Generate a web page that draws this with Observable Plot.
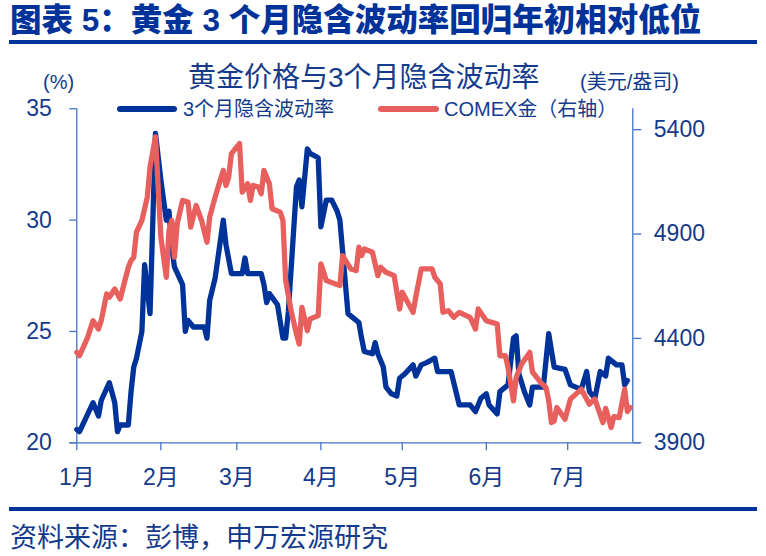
<!DOCTYPE html>
<html>
<head>
<meta charset="utf-8">
<script src="https://cdn.jsdelivr.net/npm/d3@7"></script>
<script src="https://cdn.jsdelivr.net/npm/@observablehq/plot@0.6"></script>
<style>
  html, body { margin: 0; padding: 0; background: #fff; }
  #wrap { position: relative; width: 766px; height: 556px; overflow: hidden; font-family: "Liberation Sans", "Noto Sans CJK SC", sans-serif; }
  #wrap > svg { position: absolute; left: 0; top: 0; }
  .t { position: absolute; white-space: nowrap; line-height: 1; }
  .bar { position: absolute; background: #003399; }
</style>
</head>
<body>
<div id="wrap"></div>
<script>
// ---------------- data ----------------
const year = 2026;
const volDates = ["01-01","01-02","01-07","01-09","01-10","01-13","01-15","01-16","01-17","01-20","01-21","01-22","01-23","01-25","01-26","01-28","01-30","02-01","02-03","02-04","02-05","02-06","02-09","02-10","02-11","02-13","02-17","02-18","02-19","02-21","02-24","02-25","02-27","03-03","03-04","03-05","03-10","03-11","03-12","03-13","03-16","03-18","03-19","03-20","03-23","03-24","03-25","03-27","03-28","03-31","04-01","04-03","04-05","04-07","04-08","04-11","04-13","04-15","04-16","04-17","04-20","04-21","04-22","04-24","04-25","04-27","04-29","04-30","05-02","05-05","05-06","05-08","05-10","05-13","05-14","05-19","05-22","05-26","05-28","05-30","06-01","06-02","06-05","06-06","06-09","06-11","06-12","06-13","06-15","06-17","06-18","06-22","06-24","06-26","06-30","07-02","07-06","07-08","07-09","07-11","07-13","07-15","07-16","07-19","07-21","07-22","07-23"];
const volValues = [20.6,20.5,21.8,21.2,21.9,22.7,21.8,20.5,20.8,20.8,22.3,23.4,23.8,25.0,28.0,25.8,33.9,31.8,30.0,30.4,28.8,27.9,27.1,25.0,25.5,25.2,25.2,24.7,26.4,27.4,30.0,28.9,27.6,27.6,28.3,27.6,27.6,27.1,26.3,26.7,26.2,24.7,24.7,25.9,31.5,31.8,30.6,33.2,33.0,32.8,29.7,30.9,30.9,30.4,30.0,25.8,25.6,25.4,24.7,24.1,24.0,24.5,24.0,23.4,22.5,22.2,22.1,22.9,23.1,23.5,23.0,23.5,23.6,23.8,23.2,23.2,21.7,21.7,21.4,22.0,22.2,21.7,21.3,22.3,22.6,24.7,24.8,23.1,22.3,21.7,22.5,22.5,24.9,23.4,23.3,22.6,22.4,23.2,22.3,22.0,23.2,23.0,23.8,23.5,23.5,22.6,22.8];

const goldDates = ["01-01","01-02","01-05","01-07","01-09","01-10","01-12","01-13","01-15","01-17","01-20","01-21","01-22","01-23","01-25","01-27","01-28","01-30","02-01","02-03","02-04","02-05","02-06","02-07","02-09","02-11","02-12","02-14","02-16","02-18","02-19","02-21","02-24","02-25","02-26","02-27","03-02","03-03","03-05","03-06","03-07","03-09","03-10","03-11","03-13","03-14","03-17","03-18","03-19","03-21","03-23","03-24","03-25","03-27","03-28","03-31","04-01","04-03","04-08","04-09","04-12","04-14","04-15","04-16","04-17","04-20","04-22","04-23","04-25","04-28","04-30","05-01","05-02","05-05","05-06","05-08","05-12","05-13","05-15","05-16","05-18","05-20","05-22","05-26","05-28","05-29","06-01","06-03","06-05","06-06","06-08","06-09","06-11","06-12","06-14","06-17","06-18","06-21","06-23","06-24","06-25","06-26","06-27","06-30","07-02","07-04","07-06","07-09","07-11","07-14","07-15","07-17","07-18","07-20","07-22","07-23","07-24"];
const goldValues = [4333,4317,4405,4485,4445,4485,4613,4597,4637,4589,4741,4773,4789,4909,4965,5077,5221,5365,4885,4693,4917,4965,4789,4949,5061,5053,4933,5037,4965,4861,4981,5077,5205,5133,5173,5285,5333,5101,5141,5061,5133,5125,5093,5205,5141,5021,5005,4965,4680,4533,4421,4373,4549,4437,4493,4509,4757,4677,4653,4797,4733,4725,4837,4797,4829,4813,4701,4741,4717,4701,4541,4621,4597,4525,4600,4733,4733,4693,4661,4525,4533,4501,4525,4501,4445,4541,4485,4477,4469,4317,4317,4261,4101,4213,4277,4333,4240,4189,4165,4101,3997,4005,4069,4013,4109,4133,4157,4085,4110,3997,4065,3973,4025,4021,4157,4050,4069];

const monthLabels = ["1月","2月","3月","4月","5月","6月","7月"];
const leftTicks = [20, 25, 30, 35];
const rightTicks = [3900, 4400, 4900, 5400];
const leftDomain = [20, 35];
const rightDomain = [3900, 5500];
const xStart = "01-01", xEnd = "07-25";

const seriesNames = ["3个月隐含波动率", "COMEX金（右轴）"];
const titleText = "图表 5：黄金 3 个月隐含波动率回归年初相对低位";
const chartTitle = "黄金价格与3个月隐含波动率";
const leftUnit = "(%)";
const rightUnit = "(美元/盎司)";
const sourceText = "资料来源：彭博，申万宏源研究";

// ---------------- build ----------------
const parse = s => new Date(Date.UTC(year, +s.slice(0, 2) - 1, +s.slice(3, 5)));
const toLeft = p => leftDomain[0] + (p - rightDomain[0]) / (rightDomain[1] - rightDomain[0]) * (leftDomain[1] - leftDomain[0]);
const fromLeft = v => rightDomain[0] + (v - leftDomain[0]) / (leftDomain[1] - leftDomain[0]) * (rightDomain[1] - rightDomain[0]);

const vol = volDates.map((d, i) => ({date: parse(d), v: volValues[i]}));
const gold = goldDates.map((d, i) => ({date: parse(d), v: toLeft(goldValues[i])}));
const xDomain = [parse(xStart), parse(xEnd)];
const monthTicks = monthLabels.map((_, i) => new Date(Date.UTC(year, i, 1)));

const BLUE = "#003399", RED = "#e8605d", AXIS = "#4472c4", TXT = "#143a8c";

const chart = Plot.plot({
  width: 766,
  height: 556,
  marginLeft: 76.3,
  marginRight: 133.7,
  marginTop: 108.3,
  marginBottom: 113.7,
  x: {type: "utc", domain: xDomain},
  y: {domain: leftDomain},
  style: {fontFamily: "'Liberation Sans','Noto Sans CJK SC',sans-serif", fontSize: "23px", color: TXT, background: "transparent", overflow: "visible"},
  marks: [
    Plot.ruleX(xDomain, {stroke: AXIS, strokeWidth: 1.3}),
    Plot.ruleY([leftDomain[0]], {stroke: AXIS, strokeWidth: 1.3, insetLeft: -7, insetRight: -8}),
    Plot.line(vol, {x: "date", y: "v", stroke: BLUE, strokeWidth: 5.3}),
    Plot.line(gold, {x: "date", y: "v", stroke: RED, strokeWidth: 5.3}),
    Plot.axisY({ticks: leftTicks, tickSize: 7, tickPadding: 18, stroke: AXIS, fill: TXT, strokeWidth: 1.3, label: null}),
    Plot.axisY({anchor: "right", ticks: rightTicks.map(toLeft), tickFormat: d => String(Math.round(fromLeft(d))), tickSize: 8, tickPadding: 13, stroke: AXIS, fill: TXT, strokeWidth: 1.3, label: null}),
    Plot.axisX({ticks: monthTicks, tickFormat: d => monthLabels[d.getUTCMonth()], tickSize: 8, tickPadding: 18, stroke: AXIS, fill: TXT, strokeWidth: 1.3, label: null})
  ]
});

const wrap = document.getElementById("wrap");
wrap.appendChild(chart);

function addText(txt, left, cy, size, opts = {}) {
  const el = document.createElement("div");
  el.className = "t";
  el.textContent = txt;
  el.style.left = left + "px";
  el.style.top = (cy - size / 2) + "px";
  el.style.fontSize = size + "px";
  el.style.color = opts.color || TXT;
  if (opts.weight) el.style.fontWeight = opts.weight;
  if (opts.family) el.style.fontFamily = opts.family;
  wrap.appendChild(el);
  return el;
}
function addBar(left, top, w, h, color, radius) {
  const el = document.createElement("div");
  el.className = "bar";
  el.style.left = left + "px"; el.style.top = top + "px";
  el.style.width = w + "px"; el.style.height = h + "px";
  el.style.background = color;
  if (radius) el.style.borderRadius = radius + "px";
  wrap.appendChild(el);
}

addText(titleText, 10, 21, 31.5, {color: BLUE, weight: 900, family: "'Liberation Sans','Noto Sans CJK SC',sans-serif"});
addBar(9, 40, 748, 3.5, BLUE);
addText(chartTitle, 188, 78, 28);
addText(leftUnit, 43, 82, 20);
addText(rightUnit, 580, 82, 20);
addBar(117, 105.8, 60, 5.8, BLUE, 3);
addText(seriesNames[0], 183, 109, 20);
addBar(378, 105.8, 61, 5.8, RED, 3);
addText(seriesNames[1], 444, 109, 20);
addBar(9, 507, 748, 3.5, BLUE);
addText(sourceText, 10, 538, 27);
</script>
</body>
</html>
